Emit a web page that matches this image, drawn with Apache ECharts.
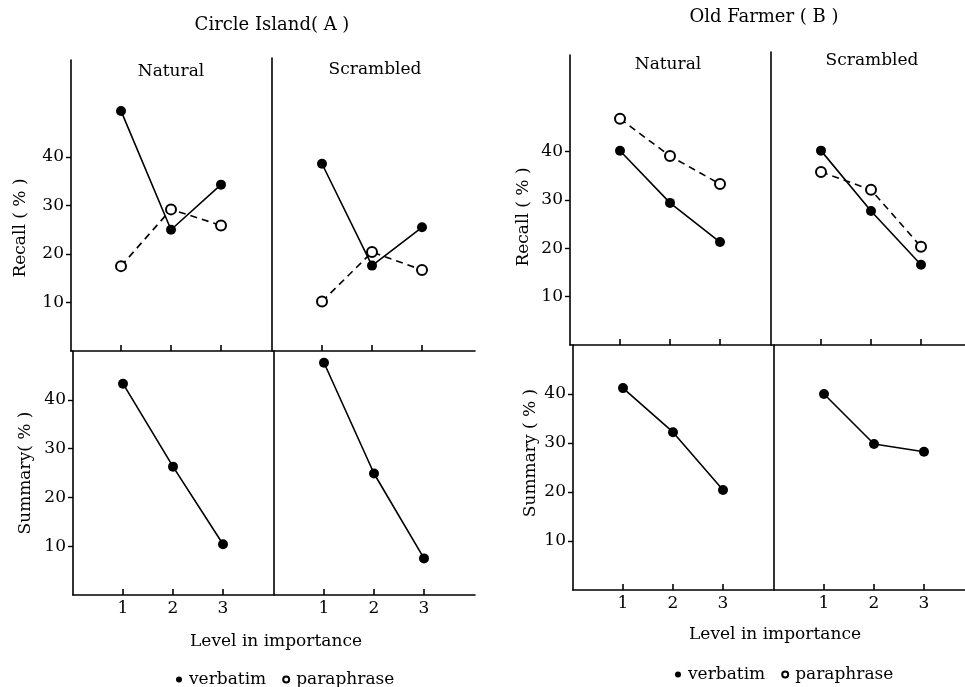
<!DOCTYPE html>
<html>
<head>
<meta charset="utf-8">
<script src="https://cdn.jsdelivr.net/npm/echarts@6/dist/echarts.min.js"></script>
<style>html,body{margin:0;padding:0;background:#fff}#c{width:965px;height:687px}</style>
</head>
<body>
<div id="c"></div>
<script>
// ---- data ----
const levels = [1, 2, 3];
const xTickValues = [1, 2, 3];
const yTickValues = [10, 20, 30, 40];
const A_recall_nat_verb = [49.5, 25.0, 34.3];
const A_recall_nat_para = [17.5, 29.2, 25.9];
const A_recall_scr_verb = [38.6, 17.6, 25.5];
const A_recall_scr_para = [10.2, 20.4, 16.7];
const A_sum_nat_verb = [43.3, 26.3, 10.4];
const A_sum_scr_verb = [47.6, 24.9, 7.5];
const B_recall_nat_verb = [40.2, 29.4, 21.3];
const B_recall_nat_para = [46.8, 39.1, 33.3];
const B_recall_scr_verb = [40.2, 27.7, 16.6];
const B_recall_scr_para = [35.8, 32.1, 20.3];
const B_sum_nat_verb = [41.2, 32.2, 20.4];
const B_sum_scr_verb = [40.0, 29.8, 28.2];

const FONT = 'DejaVu Serif';
const FS = 17;
const chart = echarts.init(document.getElementById('c'));

// grid layouts: [left, top, width, height, xMax, yMax, showYLabels, showXLabels]
const grids = [
  [71, 60, 200, 291, 4, 60, true, false],   // A natural recall
  [272, 58, 203, 293, 4.06, 60.4, false, false], // A scrambled recall
  [73, 351, 200, 244, 4, 50, true, true],   // A natural summary
  [274, 351, 201, 244, 4.02, 50, false, true], // A scrambled summary
  [570, 55, 200, 290, 4, 60, true, false],  // B natural recall
  [771, 52, 194, 293, 3.88, 60.6, false, false], // B scrambled recall
  [573, 345, 200, 245, 4, 50, true, true],  // B natural summary
  [774, 345, 191, 245, 3.82, 50, false, true]  // B scrambled summary
];

const gridOpt = [], xAxes = [], yAxes = [];
grids.forEach((g, i) => {
  gridOpt.push({left: g[0], top: g[1], width: g[2], height: g[3], outerBoundsMode: 'none', containLabel: false});
  xAxes.push({
    type: 'value', gridIndex: i, min: 0, max: g[4],
    axisLine: {show: true, onZero: false, lineStyle: {color: '#000', width: 1.6}},
    axisTick: {show: true, inside: true, length: 6, customValues: xTickValues, lineStyle: {color: '#000', width: 1.6}},
    axisLabel: {show: g[7], customValues: xTickValues, color: '#000', fontFamily: FONT, fontSize: FS, margin: 5},
    splitLine: {show: false}
  });
  yAxes.push({
    type: 'value', gridIndex: i, min: 0, max: g[5],
    axisLine: {show: true, onZero: false, lineStyle: {color: '#000', width: 1.6}},
    axisTick: {show: g[6], length: 5, customValues: yTickValues, lineStyle: {color: '#000', width: 1.4}},
    axisLabel: {show: g[6], customValues: yTickValues, color: '#000', fontFamily: FONT, fontSize: FS, margin: 7},
    splitLine: {show: false}
  });
});

function pts(arr) { return levels.map((l, i) => [l, arr[i]]); }
function verb(arr, gi) {
  return {
    name: 'verbatim', type: 'line', xAxisIndex: gi, yAxisIndex: gi, data: pts(arr),
    symbol: 'circle', symbolSize: 10, silent: true,
    lineStyle: {color: '#000', width: 1.6},
    itemStyle: {color: '#000', borderColor: '#000', borderWidth: 0}
  };
}
function para(arr, gi) {
  return {
    name: 'paraphrase', type: 'line', xAxisIndex: gi, yAxisIndex: gi, data: pts(arr),
    symbol: 'circle', symbolSize: 10, silent: true, z: 3,
    lineStyle: {color: '#000', width: 1.6, type: [7, 5]},
    itemStyle: {color: '#fff', borderColor: '#000', borderWidth: 2}
  };
}

const series = [
  verb(A_recall_nat_verb, 0), para(A_recall_nat_para, 0),
  verb(A_recall_scr_verb, 1), para(A_recall_scr_para, 1),
  verb(A_sum_nat_verb, 2), verb(A_sum_scr_verb, 3),
  verb(B_recall_nat_verb, 4), para(B_recall_nat_para, 4),
  verb(B_recall_scr_verb, 5), para(B_recall_scr_para, 5),
  verb(B_sum_nat_verb, 6), verb(B_sum_scr_verb, 7)
];

function txt(x, y, s, size, rot) {
  return {
    type: 'text', x: x, y: y, rotation: rot || 0, silent: true,
    style: {text: s, fill: '#000', font: size + 'px "' + FONT + '"', textAlign: 'center', textVerticalAlign: 'middle'}
  };
}

const graphic = [
  txt(272, 25, 'Circle Island( A )', 18),
  txt(171, 72, 'Natural', FS),
  txt(375, 70, 'Scrambled', FS),
  txt(21, 228, 'Recall ( % )', FS, Math.PI / 2),
  txt(26, 473, 'Summary( % )', FS, Math.PI / 2),
  txt(276, 642, 'Level in importance', FS),
  txt(764, 17, 'Old Farmer ( B )', 18),
  txt(668, 65, 'Natural', FS),
  txt(872, 61, 'Scrambled', FS),
  txt(524, 217, 'Recall ( % )', FS, Math.PI / 2),
  txt(531, 453, 'Summary ( % )', FS, Math.PI / 2),
  txt(775, 635, 'Level in importance', FS)
];

const legendStyle = {
  data: ['verbatim', 'paraphrase'], icon: 'circle', itemWidth: 6, itemHeight: 6, itemGap: 16,
  textStyle: {color: '#000', fontFamily: FONT, fontSize: FS, padding: [0, 0, 0, 2]},
  selectedMode: false
};

chart.setOption({
  animation: false,
  backgroundColor: '#fff',
  grid: gridOpt,
  xAxis: xAxes,
  yAxis: yAxes,
  series: series,
  graphic: graphic,
  legend: [
    Object.assign({left: 171, top: 666}, legendStyle),
    Object.assign({left: 670, top: 661}, legendStyle)
  ]
});
</script>
</body>
</html>
